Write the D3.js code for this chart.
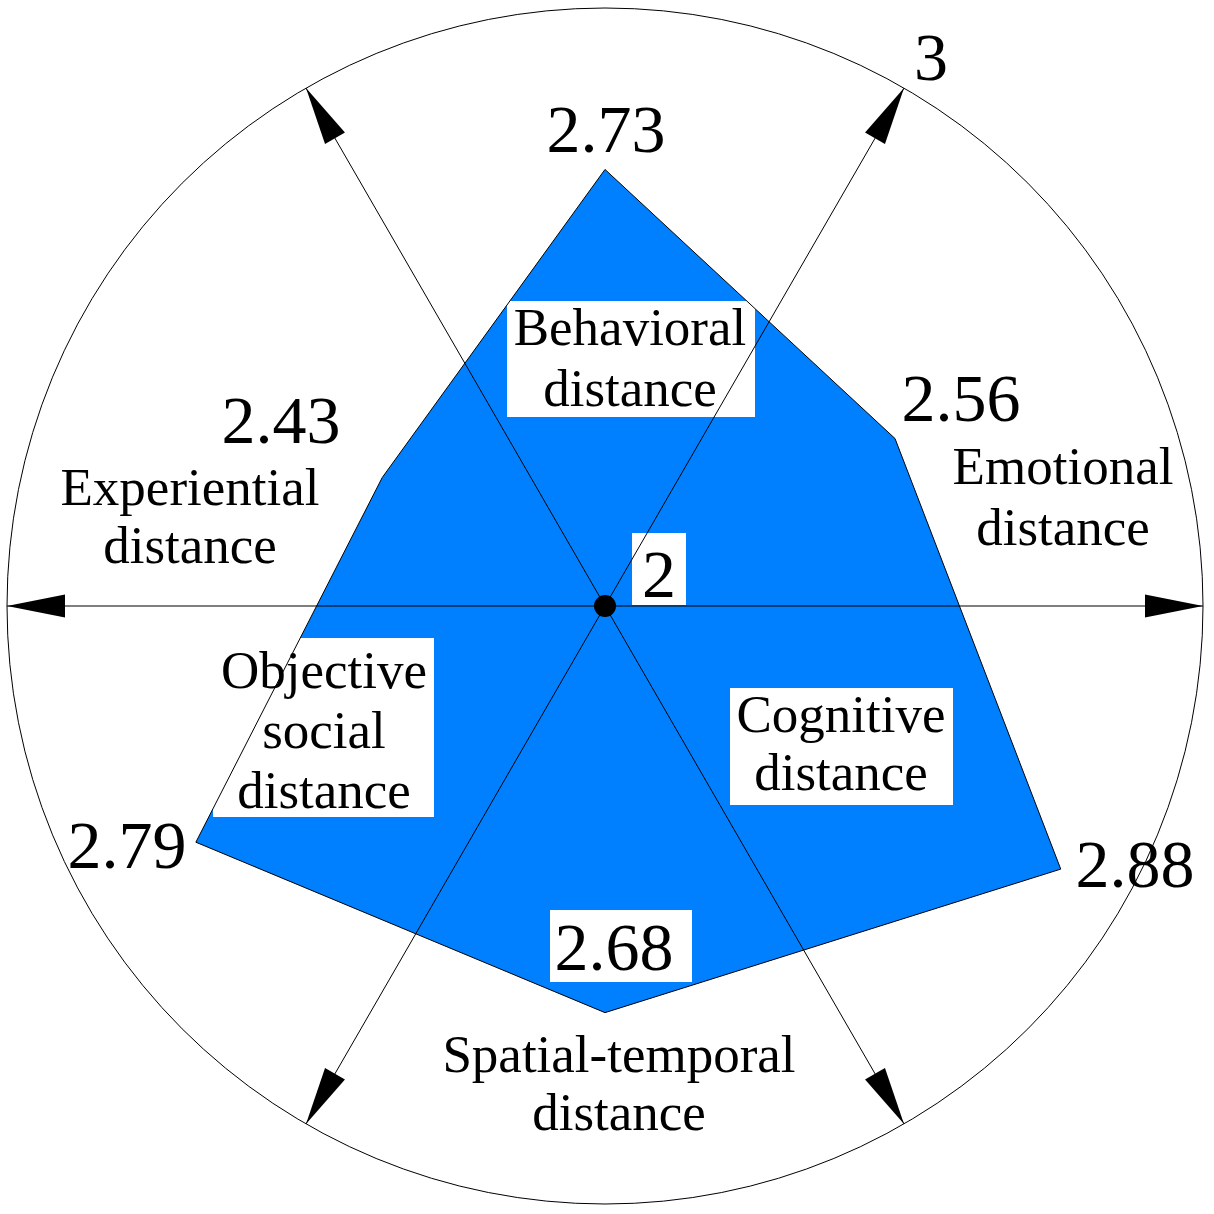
<!DOCTYPE html>
<html lang="en">
<head>
<meta charset="UTF-8">
<title>Psychological distance radar</title>
<script src="https://cdn.jsdelivr.net/npm/d3@7"></script>
<style>
  html, body { margin: 0; padding: 0; background: #fff; }
  text { font-family: "Liberation Serif", "Times New Roman", serif; fill: #000; }
</style>
</head>
<body>
<svg width="1214" height="1214"></svg>
<script>
// data
var dimensions = ["Behavioral distance", "Emotional distance", "Cognitive distance",
                  "Spatial-temporal distance", "Objective social distance", "Experiential distance"];
var values = [2.73, 2.56, 2.88, 2.68, 2.79, 2.43];
var scaleTicks = [2, 3];

// layout
var cx = 605, cy = 606, R = 598;
var vertexAngles = [90, 30, -30, -90, 210, 150];   // degrees, counter-clockwise from east
var axisAngles = [0, 60, 120, 180, 240, 300];
var blue = "#0080ff";

// label placement: [x, baseline y] for value, [x, first baseline, line gap] for name, plus optional boxes
var valuePos = [[606, 152], [961, 421], [1135, 887], [614, 970], [127, 868], [281, 443]];
var namePos  = [[630, 345, 61], [1063, 484, 61], [841, 732, 58], [619, 1072, 58], [324, 688, 60], [190, 505, 58]];
var nameBox  = [[507, 301, 248, 116], null, [730, 688, 223, 117], null, [213, 638, 221, 179], null];
var valueBox = [null, null, null, [550, 910, 142, 72], null, null];

var svg = d3.select("svg");
var r = d3.scaleLinear().domain(scaleTicks).range([0, R]);

function pt(angle, dist) {
    var a = angle * Math.PI / 180;
    return [cx + dist * Math.cos(a), cy - dist * Math.sin(a)];
}

var poly = values.map(function(v, i) { return pt(vertexAngles[i], r(v)); });

// filled area
svg.append("path")
    .attr("d", d3.line()(poly) + "Z")
    .attr("fill", blue);

// white boxes behind labels
var boxes = nameBox.concat(valueBox).filter(function(b) { return b; });
boxes.push([632, 533, 54, 72]); // box for centre tick "2"
svg.selectAll(".box").data(boxes).enter().append("rect")
    .attr("x", function(d) { return d[0]; })
    .attr("y", function(d) { return d[1]; })
    .attr("width", function(d) { return d[2]; })
    .attr("height", function(d) { return d[3]; })
    .attr("fill", "#fff");

// outer circle = value 3
svg.append("circle")
    .attr("cx", cx).attr("cy", cy).attr("r", r(3))
    .attr("fill", "none").attr("stroke", "#000").attr("stroke-width", 1);

// axes
svg.selectAll(".axis").data(axisAngles).enter().append("line")
    .attr("x1", cx).attr("y1", cy)
    .attr("x2", function(d) { return pt(d, r(3))[0]; })
    .attr("y2", function(d) { return pt(d, r(3))[1]; })
    .attr("stroke", "#000").attr("stroke-width", 1);

// polygon outline
svg.append("path")
    .attr("d", d3.line()(poly) + "Z")
    .attr("fill", "none").attr("stroke", "#000").attr("stroke-width", 1);

// arrow heads
var aLen = 58, aHalf = 11.5;
svg.selectAll(".arrow").data(axisAngles).enter().append("path")
    .attr("d", function(d) {
        var tip = pt(d, r(3)), base = pt(d, r(3) - aLen);
        var a = d * Math.PI / 180, nx = Math.sin(a), ny = Math.cos(a);
        return "M" + tip[0] + "," + tip[1] +
               "L" + (base[0] + nx * aHalf) + "," + (base[1] + ny * aHalf) +
               "L" + (base[0] - nx * aHalf) + "," + (base[1] - ny * aHalf) + "Z";
    })
    .attr("fill", "#000");

// centre dot
svg.append("circle").attr("cx", cx).attr("cy", cy).attr("r", 11).attr("fill", "#000");

// value labels
svg.selectAll(".val").data(values).enter().append("text")
    .attr("x", function(d, i) { return valuePos[i][0]; })
    .attr("y", function(d, i) { return valuePos[i][1]; })
    .attr("text-anchor", "middle")
    .attr("font-size", 68)
    .text(function(d) { return d3.format(".2f")(d); });

// scale tick labels
svg.append("text").attr("x", 659).attr("y", 597).attr("text-anchor", "middle")
    .attr("font-size", 68).text(scaleTicks[0]);
svg.append("text").attr("x", 931).attr("y", 80).attr("text-anchor", "middle")
    .attr("font-size", 68).text(scaleTicks[1]);

// dimension names
var nameLines = dimensions.map(function(n) {
    if (n === "Objective social distance") return ["Objective", "social", "distance"];
    var parts = n.split(" ");
    return [parts[0], parts.slice(1).join(" ")];
});
var names = svg.selectAll(".name").data(nameLines).enter().append("text")
    .attr("text-anchor", "middle")
    .attr("font-size", 53);
names.each(function(lines, i) {
    var t = d3.select(this);
    lines.forEach(function(l, k) {
        t.append("tspan")
            .attr("x", namePos[i][0])
            .attr("y", namePos[i][1] + k * namePos[i][2])
            .text(l);
    });
});
</script>
</body>
</html>
